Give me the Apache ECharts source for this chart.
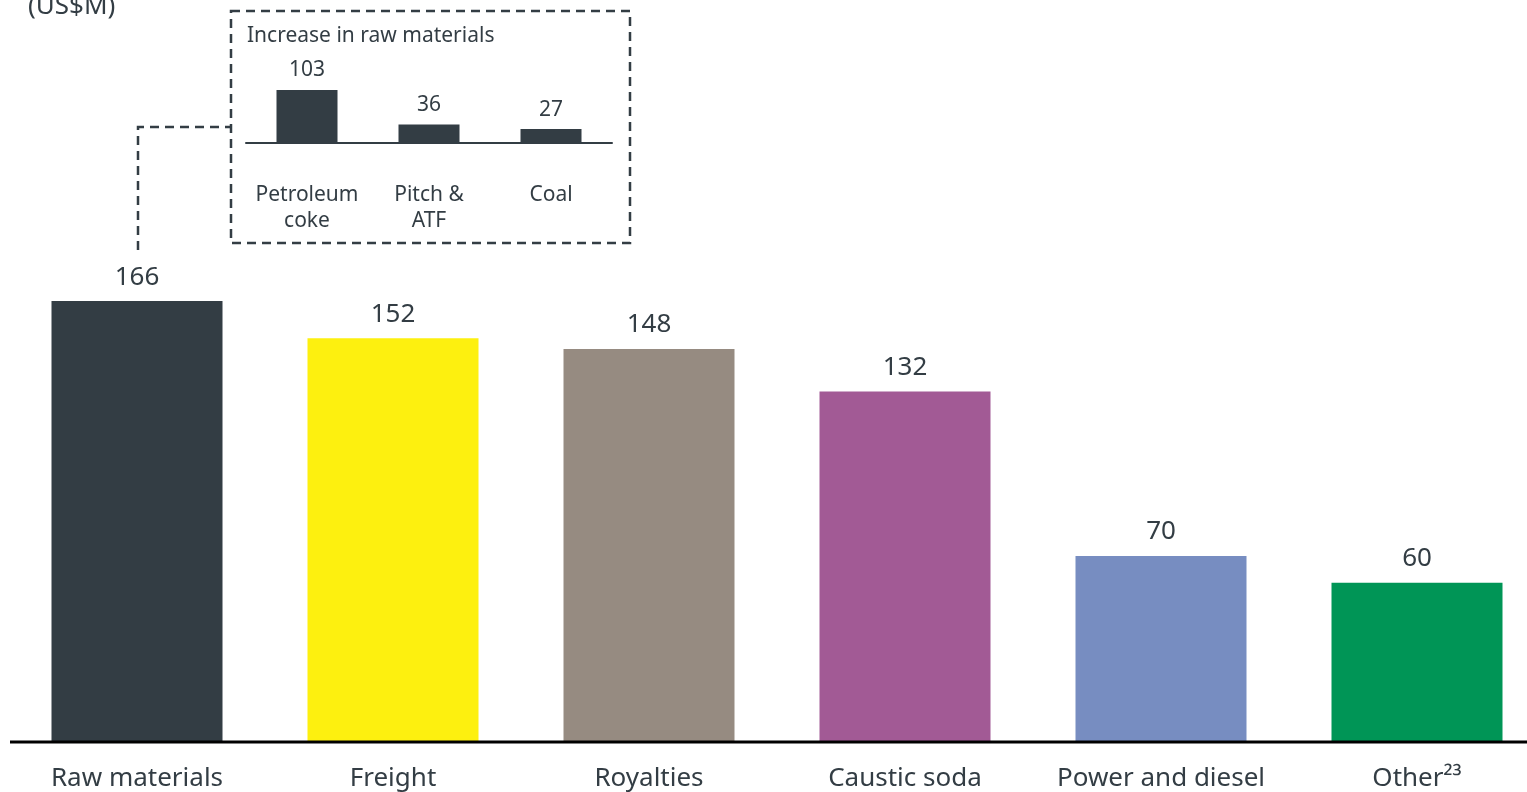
<!DOCTYPE html>
<html><head><meta charset="utf-8">
<script src="https://cdn.jsdelivr.net/npm/echarts@6/dist/echarts.min.js"></script>
<style>html,body{margin:0;padding:0;background:#fff;}#c{width:1527px;height:792px;}</style>
</head><body><div id="c"></div>
<script>
const categories = ['Raw materials','Freight','Royalties','Caustic soda','Power and diesel','Other²³'];
const values = [166,152,148,132,70,60];
const barColors = ['#333d44','#fdf00f','#968b81','#a25a95','#778dc1','#009556'];
const insetCategories = ['Petroleum\ncoke','Pitch &\nATF','Coal'];
const insetValues = [103,36,27];
const unitLabel = '(US$M)';
const insetTitle = 'Increase in raw materials';

const FONT = 'Noto Sans';
const TXT = '#333d44';
const chart = echarts.init(document.getElementById('c'), null, {renderer:'canvas'});
chart.setOption({
  animation:false,
  textStyle:{fontFamily:FONT},
  grid:[
    {left:9, top:78, width:1536, height:664, outerBoundsMode:'none', containLabel:false},
    {left:246, top:40, width:366, height:103, outerBoundsMode:'none', containLabel:false}
  ],
  xAxis:[
    {type:'category', gridIndex:0, data:categories,
     axisLine:{show:false}, axisTick:{show:false},
     axisLabel:{color:TXT, fontSize:26, margin:24, interval:0, hideOverlap:false, fontFamily:FONT}},
    {type:'category', gridIndex:1, data:insetCategories,
     axisLine:{show:true, lineStyle:{color:TXT, width:2}}, axisTick:{show:false},
     axisLabel:{color:TXT, fontSize:21, margin:39, lineHeight:26, interval:0, hideOverlap:false, fontFamily:FONT}}
  ],
  yAxis:[
    {type:'value', gridIndex:0, min:0, max:250, show:false},
    {type:'value', gridIndex:1, min:0, max:200, show:false}
  ],
  series:[
    {type:'bar', xAxisIndex:0, yAxisIndex:0, barWidth:171,
     data: values.map((v,i)=>({value:v, itemStyle:{color:barColors[i]}})),
     label:{show:true, position:'top', distance:11, color:TXT, fontSize:26, fontFamily:FONT}},
    {type:'bar', xAxisIndex:1, yAxisIndex:1, barWidth:61,
     data: insetValues, itemStyle:{color:'#333d44'},
     label:{show:true, position:'top', distance:9, color:TXT, fontSize:21, fontFamily:FONT}}
  ],
  graphic:[
    {type:'line', shape:{x1:10,y1:742,x2:1527,y2:742}, style:{stroke:'#000', lineWidth:3}, z:10},
    {type:'text', left:28, top:-6, style:{text:unitLabel, fill:TXT, font:'26px "Noto Sans"'}},
    {type:'rect', shape:{x:231,y:11,width:399,height:232},
     style:{fill:'none', stroke:'#333d44', lineWidth:2.5, lineDash:[9,6]}},
    {type:'polyline', shape:{points:[[138,250],[138,127],[231,127]]},
     style:{fill:'none', stroke:'#333d44', lineWidth:2.5, lineDash:[9,6]}},
    {type:'text', left:247, top:26, style:{text:insetTitle, fill:TXT, font:'21px "Noto Sans"'}}
  ]
});
</script></body></html>
